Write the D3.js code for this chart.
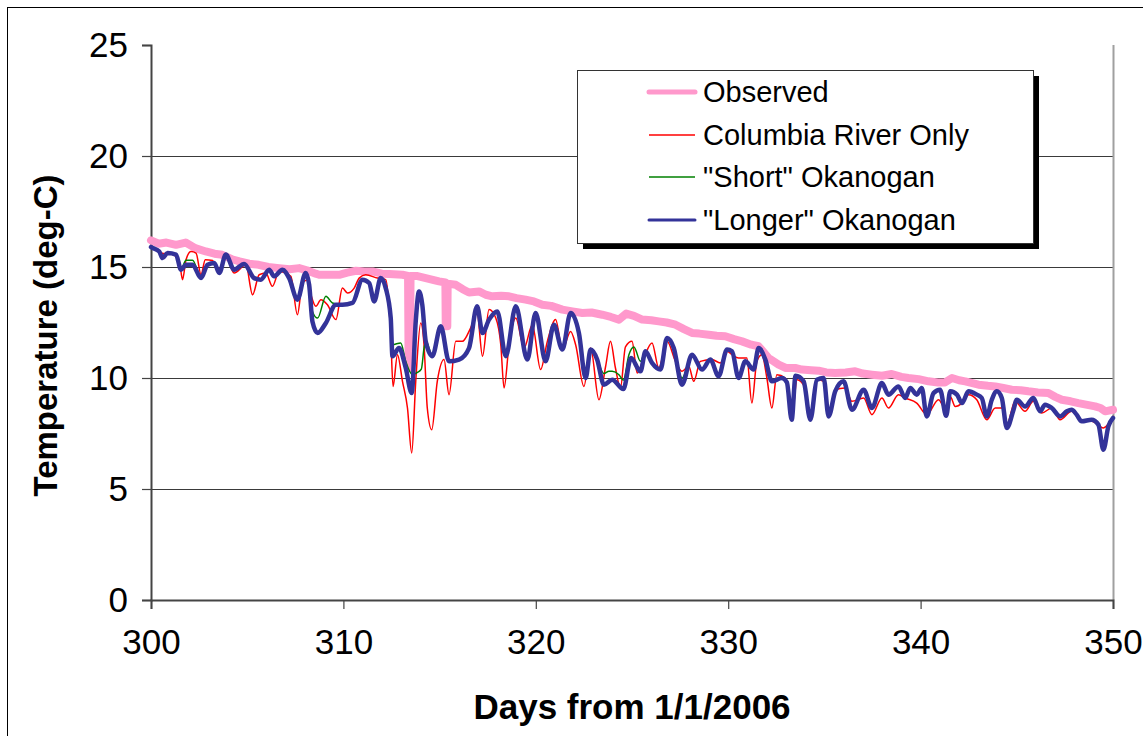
<!DOCTYPE html>
<html>
<head>
<meta charset="utf-8">
<script src="https://cdn.jsdelivr.net/npm/d3@7/dist/d3.min.js"></script>
<style>
  html, body { margin: 0; padding: 0; background: #fff; }
  svg { display: block; font-family: "Liberation Sans", Arial, sans-serif; }
</style>
</head>
<body>
<svg id="chart" width="1143" height="736"></svg>
<script>
// Water temperature, days 300-350 of 2006: observed vs three model runs
const seriesNames = ["Observed", "Columbia River Only", "\"Short\" Okanogan", "\"Longer\" Okanogan"];
const xTicks = [300, 310, 320, 330, 340, 350];
const yTicks = [0, 5, 10, 15, 20, 25];

// [day, deg-C]
const observed = [
  [300.0,16.2],[300.4,16.05],[300.8,16.1],[301.3,16.0],[301.8,16.1],[302.3,15.85],[302.85,15.7],
  [303.3,15.6],[303.7,15.55],[304.2,15.35],[304.6,15.25],[305.1,15.15],[305.6,15.1],[306.1,15.0],
  [306.66,14.95],[307.2,14.9],[307.7,14.95],[308.1,14.85],[308.56,14.7],[308.74,14.65],[309.3,14.65],
  [309.78,14.65],[310.2,14.75],[310.65,14.83],[311.1,14.8],[311.51,14.8],[312.0,14.7],[312.38,14.68],
  [313.07,14.65],[313.36,14.6],[313.39,10.45],[313.46,10.45],[313.49,14.6],[313.8,14.6],[314.28,14.5],
  [314.97,14.35],[315.3,14.3],[315.32,12.33],[315.4,12.33],[315.42,14.25],[315.84,14.2],[316.2,14.0],
  [316.53,13.85],[317.05,13.9],[317.4,13.75],[317.74,13.68],[318.2,13.7],[318.61,13.68],[319.0,13.6],
  [319.47,13.53],[319.9,13.45],[320.34,13.3],[320.8,13.25],[321.38,13.08],[321.9,13.0],[322.42,12.93],
  [322.9,12.95],[323.45,12.85],[323.9,12.75],[324.32,12.63],[324.7,12.9],[325.1,12.8],[325.53,12.63],
  [326.0,12.6],[326.39,12.55],[326.8,12.5],[327.26,12.4],[327.7,12.2],[328.12,12.03],[328.5,12.0],
  [328.99,11.95],[329.4,11.9],[329.85,11.88],[330.3,11.75],[330.72,11.65],[331.2,11.5],[331.58,11.43],
  [332.1,10.9],[332.62,10.6],[333.0,10.45],[333.48,10.45],[333.83,10.38],[334.3,10.35],[334.7,10.33],
  [335.1,10.25],[335.56,10.23],[336.1,10.25],[336.6,10.3],[337.0,10.2],[337.47,10.15],[338.0,10.1],
  [338.5,10.18],[339.0,10.05],[339.37,10.0],[339.9,9.95],[340.41,9.85],[340.9,9.8],[341.27,9.8],
  [341.63,10.0],[342.0,9.9],[342.32,9.85],[343.01,9.7],[343.5,9.65],[343.88,9.62],[344.3,9.55],
  [344.74,9.47],[345.2,9.45],[345.6,9.4],[346.1,9.35],[346.64,9.32],[347.0,9.15],[347.34,9.02],
  [347.8,8.95],[348.2,8.87],[348.6,8.8],[349.07,8.72],[349.35,8.65],[349.59,8.5],[350.0,8.57]
];

const columbiaOnly = [
  [300.0,15.95],[300.09,15.89],[300.52,15.63],[301.12,15.56],[301.47,15.26],[301.64,14.43],[301.82,15.33],
  [302.08,15.7],[302.34,15.63],[302.6,14.65],[302.82,15.33],[303.2,15.29],[303.46,14.8],[303.89,15.48],
  [304.32,14.73],[304.93,15.1],[305.28,13.75],[305.62,14.65],[305.97,14.73],[306.31,14.13],[306.66,14.8],
  [307.27,14.58],[307.61,12.85],[307.87,14.28],[308.1,14.4],[308.31,13.75],[308.57,13.23],[308.83,13.53],
  [309.17,13.3],[309.61,12.63],[309.95,14.05],[310.21,13.83],[310.56,14.05],[310.82,14.5],[311.16,14.65],
  [311.77,14.5],[312.2,14.43],[312.46,11.95],[312.58,9.62],[312.81,11.05],[313.07,9.85],[313.33,8.65],
  [313.55,6.62],[313.76,9.85],[314.02,12.48],[314.19,11.5],[314.36,8.65],[314.59,7.67],[314.88,9.85],
  [315.23,10.83],[315.49,9.25],[315.84,11.65],[316.18,11.65],[316.61,12.25],[316.95,12.9],[317.23,10.98],
  [317.57,13.08],[317.92,12.7],[318.18,11.5],[318.35,9.55],[318.61,11.5],[318.96,12.7],[319.39,11.35],
  [319.82,12.4],[320.25,10.38],[320.6,11.65],[321.03,12.63],[321.38,11.28],[321.81,12.1],[322.07,11.5],
  [322.5,9.62],[322.85,11.35],[323.28,9.02],[323.63,10.53],[323.88,11.65],[324.14,10.45],[324.4,9.55],
  [324.66,11.4],[325.0,11.65],[325.27,10.23],[325.61,10.9],[326.04,11.58],[326.39,10.45],[326.82,11.65],
  [327.26,10.75],[327.6,10.3],[327.95,10.53],[328.21,9.85],[328.55,10.75],[329.16,10.83],[329.59,10.68],
  [329.94,11.2],[330.2,11.05],[330.54,10.9],[330.97,10.9],[331.23,8.87],[331.49,10.75],[331.75,11.05],
  [332.01,10.0],[332.27,8.65],[332.53,10.15],[332.96,10.0],[333.31,8.27],[333.58,9.92],[334.0,9.55],
  [334.27,8.27],[334.61,9.92],[334.96,9.85],[335.22,8.27],[335.56,9.47],[336.08,9.55],[336.43,8.95],
  [337.04,9.1],[337.47,8.35],[337.99,9.1],[338.33,8.65],[338.85,9.25],[339.2,9.1],[339.8,8.87],
  [340.32,8.35],[340.93,9.02],[341.3,8.6],[341.54,9.17],[341.8,8.72],[342.15,8.87],[342.49,9.25],
  [342.92,9.02],[343.44,8.12],[343.88,8.65],[344.31,8.65],[344.48,7.9],[344.91,8.95],[345.43,8.5],
  [345.86,8.95],[346.3,8.42],[346.82,8.65],[347.25,8.12],[347.85,8.5],[348.37,8.05],[348.89,8.05],
  [349.5,7.75],[350.0,8.27]
];

const shortOkanogan = [
  [300.0,15.9],[300.09,15.86],[300.43,15.7],[300.6,15.4],[300.86,15.63],[301.3,15.56],[301.56,14.9],
  [301.82,15.3],[302.16,15.3],[302.6,14.5],[302.94,15.1],[303.29,15.18],[303.55,14.73],[303.89,15.56],
  [304.32,14.88],[304.84,15.14],[305.36,14.5],[305.71,14.43],[306.14,14.88],[306.4,14.58],[306.83,14.88],
  [307.18,14.5],[307.61,13.53],[308.04,14.73],[308.22,14.2],[308.39,13.0],[308.66,12.7],[309.09,13.68],
  [309.43,13.38],[309.95,13.3],[310.47,13.38],[310.99,14.43],[311.34,14.28],[311.6,13.45],[311.94,14.5],
  [312.2,14.05],[312.46,12.7],[312.55,11.5],[312.98,11.58],[313.24,10.75],[313.59,10.15],[313.85,10.25],
  [314.05,10.4],[314.2,11.4],[314.3,11.65],[314.62,10.98],[315.06,12.33],[315.49,10.75],[316.01,10.83],
  [316.53,11.35],[316.95,13.23],[317.23,12.03],[317.57,12.63],[318.0,13.0],[318.44,10.98],[318.96,13.23],
  [319.56,10.83],[319.99,12.93],[320.51,10.75],[320.94,12.4],[321.38,11.28],[321.81,12.93],[322.24,12.03],
  [322.59,10.0],[322.85,11.28],[323.19,10.83],[323.54,10.2],[323.8,10.3],[323.97,10.3],[324.32,10.15],
  [324.55,9.9],[324.84,11.05],[325.1,11.4],[325.44,10.75],[325.7,11.2],[326.04,10.68],[326.48,10.38],
  [326.82,11.8],[327.17,11.35],[327.6,10.0],[328.12,11.05],[328.64,10.38],[329.07,10.83],[329.5,10.08],
  [329.94,11.28],[330.2,11.2],[330.54,10.0],[330.89,10.75],[331.32,10.38],[331.58,11.35],[331.93,10.83],
  [332.27,9.85],[332.79,10.0],[333.05,9.8],[333.3,8.12],[333.5,10.1],[333.92,9.85],[334.27,8.12],
  [334.61,9.92],[334.96,10.0],[335.22,8.27],[335.56,9.4],[336.0,9.85],[336.43,8.57],[337.04,9.47],
  [337.47,8.65],[337.99,9.77],[338.33,9.25],[338.85,9.62],[339.2,9.1],[339.46,9.55],[339.8,9.25],
  [340.06,9.55],[340.32,8.27],[340.67,9.32],[341.01,9.47],[341.33,8.3],[341.54,9.4],[341.89,9.25],
  [342.15,8.87],[342.49,9.4],[342.92,9.25],[343.18,9.1],[343.44,8.27],[343.7,9.02],[343.96,9.4],
  [344.22,9.1],[344.48,7.75],[344.83,8.57],[345.0,9.02],[345.43,8.72],[345.86,9.1],[346.21,8.5],
  [346.47,8.8],[346.82,8.65],[347.25,8.27],[347.6,8.5],[347.85,8.57],[348.11,8.35],[348.37,8.05],
  [348.89,8.12],[349.24,7.9],[349.5,6.77],[349.76,7.82],[350.0,8.2]
];

const longerOkanogan = [
  [300.0,15.9],[300.09,15.86],[300.43,15.7],[300.6,15.4],[300.86,15.63],[301.3,15.56],[301.56,14.88],
  [301.82,15.1],[302.16,15.1],[302.6,14.5],[302.94,15.1],[303.29,15.18],[303.55,14.73],[303.89,15.56],
  [304.32,14.88],[304.84,15.14],[305.36,14.5],[305.71,14.43],[306.14,14.88],[306.4,14.58],[306.83,14.88],
  [307.18,14.5],[307.61,13.53],[308.04,14.73],[308.22,14.2],[308.39,12.55],[308.66,12.03],[309.09,12.48],
  [309.61,13.3],[309.95,13.3],[310.47,13.38],[310.99,14.43],[311.34,14.28],[311.6,13.45],[311.94,14.5],
  [312.2,14.05],[312.46,12.7],[312.55,10.98],[312.89,11.35],[313.24,10.45],[313.55,9.32],[313.76,12.55],
  [313.93,13.9],[314.1,13.3],[314.28,11.65],[314.62,10.98],[315.06,12.33],[315.49,10.75],[316.01,10.83],
  [316.53,11.35],[316.95,13.23],[317.23,12.03],[317.57,12.63],[318.0,13.0],[318.44,10.98],[318.96,13.23],
  [319.56,10.83],[319.99,12.93],[320.51,10.75],[320.94,12.4],[321.38,11.28],[321.81,12.93],[322.24,12.03],
  [322.59,10.0],[322.85,11.28],[323.19,10.83],[323.54,9.7],[323.97,9.92],[324.55,9.5],[324.95,10.9],
  [325.44,10.3],[325.7,11.2],[326.04,10.68],[326.48,10.38],[326.82,11.8],[327.17,11.35],[327.6,9.7],
  [328.12,11.05],[328.64,10.38],[329.07,10.83],[329.5,10.08],[329.94,11.28],[330.2,11.2],[330.54,10.0],
  [330.89,10.75],[331.32,10.38],[331.58,11.35],[331.93,10.83],[332.27,9.85],[332.79,10.0],[333.05,9.8],
  [333.3,8.12],[333.5,10.1],[333.92,9.85],[334.27,8.12],[334.61,9.92],[334.96,10.0],[335.22,8.27],
  [335.56,9.4],[336.0,9.85],[336.43,8.57],[337.04,9.47],[337.47,8.65],[337.99,9.77],[338.33,9.25],
  [338.85,9.62],[339.2,9.1],[339.46,9.55],[339.8,9.25],[340.06,9.55],[340.32,8.27],[340.67,9.32],
  [341.01,9.47],[341.33,8.3],[341.54,9.4],[341.89,9.25],[342.15,8.87],[342.49,9.4],[342.92,9.25],
  [343.18,9.1],[343.44,8.27],[343.7,9.02],[343.96,9.4],[344.22,9.1],[344.48,7.75],[344.83,8.57],
  [345.0,9.02],[345.43,8.72],[345.86,9.1],[346.21,8.5],[346.47,8.8],[346.82,8.65],[347.25,8.27],
  [347.6,8.5],[347.85,8.57],[348.11,8.35],[348.37,8.05],[348.89,8.12],[349.24,7.9],[349.5,6.77],
  [349.76,7.82],[350.0,8.2]
];

const svg = d3.select("#chart");
const W = 1143, H = 736;
const plot = { left: 151, right: 1113, top: 45, bottom: 600 };

const x = d3.scaleLinear().domain([300, 350]).range([plot.left, plot.right]);
const y = d3.scaleLinear().domain([0, 25]).range([plot.bottom, plot.top]);

// outer chart frame
svg.append("rect")
  .attr("x", 7.5).attr("y", 7.5).attr("width", W).attr("height", H)
  .attr("fill", "#fff").attr("stroke", "#000").attr("stroke-width", 1);

// horizontal gridlines
svg.append("g")
  .selectAll("line")
  .data(yTicks.filter(t => t > 0 && t < 25))
  .join("line")
  .attr("x1", plot.left).attr("x2", plot.right)
  .attr("y1", d => Math.round(y(d)) + 0.5).attr("y2", d => Math.round(y(d)) + 0.5)
  .attr("stroke", "#3a3a3a").attr("stroke-width", 1);

// plot-area right edge
svg.append("line")
  .attr("x1", plot.right + 0.5).attr("x2", plot.right + 0.5)
  .attr("y1", plot.top).attr("y2", plot.bottom)
  .attr("stroke", "#a0a0a0").attr("stroke-width", 2);

// axes
const yAxis = d3.axisLeft(y).tickValues(yTicks).tickSize(9).tickPadding(14).tickFormat(d3.format("d"));
const xAxis = d3.axisBottom(x).tickValues(xTicks).tickSize(9).tickPadding(20).tickFormat(d3.format("d"));

const gy = svg.append("g").attr("transform", `translate(${plot.left},0)`).call(yAxis);
const gx = svg.append("g").attr("transform", `translate(0,${plot.bottom})`).call(xAxis);

[gx, gy].forEach(g => {
  g.select(".domain").attr("stroke", "#444").attr("stroke-width", 2);
  g.selectAll(".tick line").attr("stroke", "#444").attr("stroke-width", 1.2);
  g.selectAll(".tick text")
    .attr("fill", "#000")
    .style("font-family", "'Liberation Sans', Arial, sans-serif")
    .style("font-size", "35px");
});

// series lines
const smooth = d3.line().x(d => x(d[0])).y(d => y(d[1])).curve(d3.curveMonotoneX);
const straight = d3.line().x(d => x(d[0])).y(d => y(d[1]));

const styles = [
  { data: observed,       color: "#ff99cc", width: 8,   gen: straight },
  { data: columbiaOnly,   color: "#ff0000", width: 1.5, gen: smooth },
  { data: shortOkanogan,  color: "#008000", width: 1.5, gen: smooth },
  { data: longerOkanogan, color: "#333399", width: 4.5, gen: smooth }
];

const lines = svg.append("g");
styles.forEach(s => {
  lines.append("path")
    .datum(s.data)
    .attr("d", s.gen)
    .attr("fill", "none")
    .attr("stroke", s.color)
    .attr("stroke-width", s.width)
    .attr("stroke-linejoin", "round")
    .attr("stroke-linecap", "round");
});

// axis titles
svg.append("text")
  .attr("x", (plot.left + plot.right) / 2).attr("y", 719)
  .attr("text-anchor", "middle")
  .style("font-size", "35px").style("font-weight", "bold")
  .text("Days from 1/1/2006");

svg.append("text")
  .attr("transform", `translate(57,${(plot.top + plot.bottom) / 2 + 13}) rotate(-90)`)
  .attr("text-anchor", "middle")
  .style("font-size", "33px").style("font-weight", "bold")
  .text("Temperature (deg-C)");

// legend with drop shadow
const lg = { x: 577, y: 70, w: 456, h: 173 };
svg.append("rect")
  .attr("x", lg.x + 6).attr("y", lg.y + 6).attr("width", lg.w).attr("height", lg.h)
  .attr("fill", "#000");
svg.append("rect")
  .attr("x", lg.x + 0.5).attr("y", lg.y + 0.5).attr("width", lg.w).attr("height", lg.h)
  .attr("fill", "#fff").attr("stroke", "#333").attr("stroke-width", 1);

const rowY = [92, 135, 177, 220];
const legend = svg.append("g");
styles.forEach((s, i) => {
  legend.append("line")
    .attr("x1", 649).attr("x2", 695)
    .attr("y1", rowY[i]).attr("y2", rowY[i])
    .attr("stroke", s.color)
    .attr("stroke-width", i === 0 ? 5 : (i === 3 ? 3 : 1.4))
    .attr("stroke-linecap", i === 0 || i === 3 ? "round" : "butt");
  legend.append("text")
    .attr("x", 703).attr("y", rowY[i] + 10)
    .style("font-size", "29px")
    .text(seriesNames[i]);
});
</script>
</body>
</html>
